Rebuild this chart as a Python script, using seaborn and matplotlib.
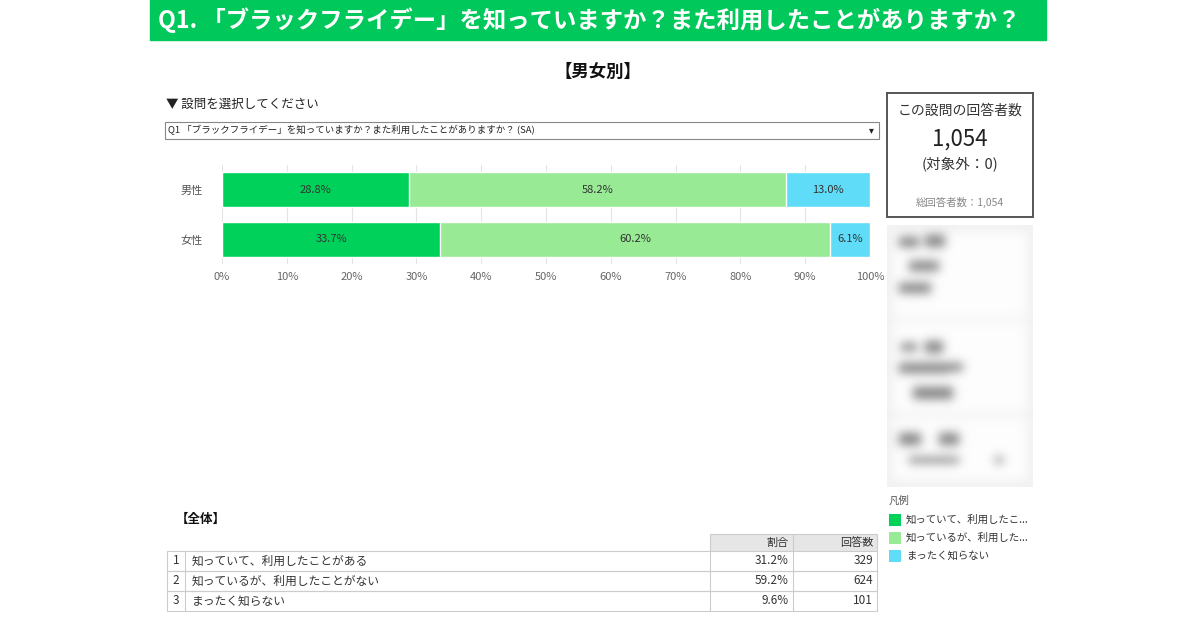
import numpy as np
import pandas as pd
import matplotlib
matplotlib.use("Agg")
import matplotlib.pyplot as plt
from matplotlib.patches import Rectangle
import seaborn as sns

# ---------------- data ----------------
groups = ["男性", "女性"]
answers = ["知っていて、利用したことがある", "知っているが、利用したことがない", "まったく知らない"]
legend_labels = ["知っていて、利用したこ...", "知っているが、利用した...", "まったく知らない"]
male_pct = [28.8, 58.2, 13.0]
female_pct = [33.7, 60.2, 6.1]
total_pct = [31.2, 59.2, 9.6]
total_cnt = [329, 624, 101]
respondents = "1,054"
excluded = "0"
colors = ["#00D15A", "#98EA94", "#5FDCF7"]
xticks = [0, 10, 20, 30, 40, 50, 60, 70, 80, 90, 100]

title = "Q1. 「ブラックフライデー」を知っていますか？また利用したことがありますか？"
dropdown = "Q1 「ブラックフライデー」を知っていますか？また利用したことがありますか？ (SA)"

sns.set_theme(style="white")
plt.rcParams["font.family"] = ["Noto Sans CJK JP", "DejaVu Sans"]

W, H = 1200, 630
fig = plt.figure(figsize=(12, 6.3), dpi=100)
fig.patch.set_facecolor("white")

# background axes in pixel coords
bg = fig.add_axes([0, 0, 1, 1])
bg.axis("off")

# blurred filter panel (decorative placeholder)
pw, ph = 146, 262
panel = np.full((ph, pw), 0.945)
for (y0, h) in [(7, 85), (97, 90), (193, 62)]:
    panel[y0:y0 + h, 6:140] = 0.99
for (x0, y0, w, h) in [(12, 12, 20, 10), (38, 10, 20, 12), (22, 36, 30, 10), (12, 58, 32, 10),
                      (14, 118, 16, 8), (38, 116, 18, 12), (12, 138, 50, 10), (60, 138, 16, 8),
                      (26, 162, 40, 12), (12, 208, 22, 12), (52, 208, 20, 12),
                      (22, 232, 50, 6), (108, 232, 8, 6)]:
    panel[y0:y0 + h, x0:x0 + w] = 0.5
r = 16
k = np.exp(-0.5 * (np.arange(-r, r + 1) / 5.0) ** 2)
k /= k.sum()
pad = np.pad(panel, r, mode="edge")
pad = np.apply_along_axis(lambda v: np.convolve(v, k, mode="same"), 1, pad)
pad = np.apply_along_axis(lambda v: np.convolve(v, k, mode="same"), 0, pad)
panel = pad[r:-r, r:-r]
bg.imshow(panel, cmap="gray", vmin=0, vmax=1, extent=(887, 1033, 487, 225),
          interpolation="bilinear", aspect="auto", zorder=1)
bg.set_xlim(0, W)
bg.set_ylim(H, 0)

# header bar
bg.add_patch(Rectangle((150, 0), 896, 40, color="#00C85A", zorder=1))
bg.text(158, 20, title, color="white", fontsize=16.8, fontweight="bold",
        va="center", ha="left", zorder=2)
bg.text(598, 72, "【男女別】", fontsize=12.5, fontweight="bold", ha="center",
        va="center", color="#111")

# selector
bg.text(166, 104, "▼ 設問を選択してください", fontsize=9, ha="left", va="center", color="#222")
bg.add_patch(Rectangle((165, 122), 714, 17, fill=False, ec="#888", lw=0.8))
bg.text(168, 130.5, dropdown, fontsize=6.8, ha="left", va="center", color="#222")
bg.text(871, 130.5, "▾", fontsize=7, ha="center", va="center", color="#222")

# respondents box
bg.add_patch(Rectangle((887, 93), 146, 124, fill=False, ec="#555", lw=1.4))
bg.text(960, 111, "この設問の回答者数", fontsize=10, ha="center", va="center", color="#333")
bg.text(960, 139, respondents, fontsize=16, ha="center", va="center", color="#222")
bg.text(960, 164, f"(対象外：{excluded})", fontsize=10.5, ha="center", va="center", color="#333")
bg.text(960, 202, f"総回答者数：{respondents}", fontsize=7.5, ha="center", va="center", color="#888")

# legend
bg.text(889, 501, "凡例", fontsize=7.5, ha="left", va="center", color="#555")
for i, (lab, c) in enumerate(zip(legend_labels, colors)):
    y = 520 + i * 18
    bg.add_patch(Rectangle((889, y - 6), 12, 12, color=c, lw=0))
    bg.text(906, y, lab, fontsize=7.5, ha="left", va="center", color="#333")

# overall table
bg.text(176, 519, "【全体】", fontsize=9, fontweight="bold", ha="left", va="center", color="#111")
bg.add_patch(Rectangle((710, 534), 167, 17, color="#E6E6E6", lw=0))
bg.plot([710, 877], [534, 534], color="#CCC", lw=0.8)
for x in [710, 793, 877]:
    bg.plot([x, x], [534, 551], color="#CCC", lw=0.8)
bg.text(789, 542.5, "割合", fontsize=8, ha="right", va="center", color="#333")
bg.text(873, 542.5, "回答数", fontsize=8, ha="right", va="center", color="#333")
row_top = 551
rh = 20
for i, (a, p, n) in enumerate(zip(answers, total_pct, total_cnt)):
    y0 = row_top + i * rh
    bg.add_patch(Rectangle((167, y0), 710, rh, fill=False, ec="#CCC", lw=0.8))
    for x in [185, 710, 793]:
        bg.plot([x, x], [y0, y0 + rh], color="#CCC", lw=0.8)
    yc = y0 + rh / 2
    bg.text(176, yc, str(i + 1), fontsize=8.5, ha="center", va="center", color="#333")
    bg.text(192, yc, a, fontsize=8.5, ha="left", va="center", color="#333")
    bg.text(789, yc, f"{p:.1f}%", fontsize=8.5, ha="right", va="center", color="#333")
    bg.text(873, yc, f"{n}", fontsize=8.5, ha="right", va="center", color="#333")
bg.set_xlim(0, W)
bg.set_ylim(H, 0)

# ---------------- stacked bar chart ----------------
ax = fig.add_axes([222 / W, 1 - 264 / H, 648 / W, 99 / H])
df = pd.DataFrame({"group": groups,
                   "a": [male_pct[0], female_pct[0]],
                   "b": [male_pct[1], female_pct[1]],
                   "c": [male_pct[2], female_pct[2]]})
df["cum1"] = df["a"]
df["cum2"] = df["a"] + df["b"]
df["cum3"] = df["a"] + df["b"] + df["c"]

for col, c in [("cum3", colors[2]), ("cum2", colors[1]), ("cum1", colors[0])]:
    sns.barplot(data=df, x=col, y="group", orient="h", color=c, width=0.71,
                saturation=1, ax=ax, zorder=3)

for i, row in df.iterrows():
    starts = [0, row["cum1"], row["cum2"]]
    vals = [row["a"], row["b"], row["c"]]
    for s, v in zip(starts, vals):
        ax.text(s + v / 2, i, f"{v:.1f}%", ha="center", va="center",
                fontsize=8, color="#333", zorder=5)

ax.set_xlim(0, 100)
ax.set_ylim(1.5, -0.5)
ax.set_xticks(xticks)
ax.set_xticklabels([f"{t}%" for t in xticks], fontsize=8, color="#666")
ax.tick_params(axis="y", labelsize=8, labelcolor="#555", length=0, pad=14)
ax.tick_params(axis="x", length=0, pad=6)
ax.set_xlabel("")
ax.set_ylabel("")
ax.grid(axis="x", color="#E3E3E3", lw=0.8, zorder=0)
for s in ax.spines.values():
    s.set_visible(False)
ax.set_facecolor("none")

fig.savefig("out.png", dpi=100)
